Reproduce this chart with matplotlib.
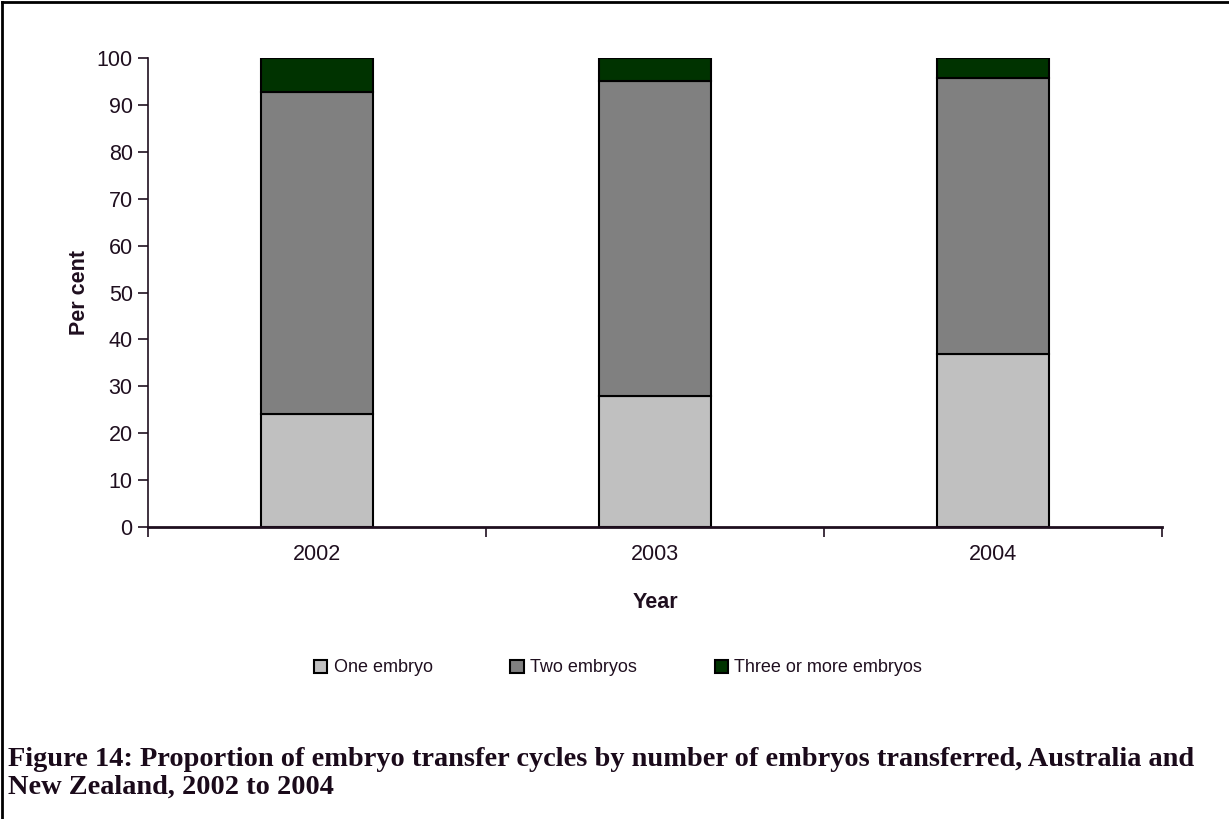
import matplotlib
matplotlib.use("Agg")
import matplotlib.pyplot as plt
from matplotlib.lines import Line2D
import numpy as np

years = ["2002", "2003", "2004"]
one_embryo = [24.2, 28.0, 36.9]
two_embryos = [68.6, 67.0, 58.8]
three_plus = [7.2, 5.0, 4.3]
series_names = ["One embryo", "Two embryos", "Three or more embryos"]
series_colors = ["#c0c0c0", "#808080", "#003300"]

txt = "#1f0f1f"
plt.rcParams['font.family'] = ['Liberation Sans', 'DejaVu Sans']

fig = plt.figure(figsize=(12.29, 8.19), dpi=100)
W, H = 1229, 819
ax = fig.add_axes([148 / W, 1 - 527 / H, (1162 - 148) / W, (527 - 58) / H])

x = np.arange(len(years))
bw = 0.33
bottom = np.zeros(len(years))
for vals, name, col in zip([one_embryo, two_embryos, three_plus], series_names, series_colors):
    ax.bar(x, vals, bw, bottom=bottom, color=col, edgecolor="black", linewidth=1.5, label=name)
    bottom += np.array(vals)

ax.set_xlim(-0.5, len(years) - 0.5)
ax.set_ylim(0, 100)
ax.set_yticks(range(0, 101, 10))
ax.set_xticks(x)
ax.set_xticks(np.arange(-0.5, len(years)), minor=True)
ax.set_xticklabels(years)
ax.tick_params(axis='x', which='major', length=0, pad=12, labelsize=15.5, colors=txt)
ax.tick_params(axis='x', which='minor', length=7, width=1.2, color=txt, direction='out')
ax.tick_params(axis='y', length=7, width=1.2, color=txt, labelsize=15.5, labelcolor=txt, pad=4)
for s in ["top", "right"]:
    ax.spines[s].set_visible(False)
ax.spines["left"].set_color(txt)
ax.spines["left"].set_linewidth(1.2)
ax.spines["bottom"].set_color(txt)
ax.spines["bottom"].set_linewidth(2)

ax.set_ylabel("Per cent", fontsize=15.5, fontweight="bold", color=txt, labelpad=5)
ax.set_xlabel("Year", fontsize=15.5, fontweight="bold", color=txt, labelpad=20)

leg = fig.legend(loc="center", bbox_to_anchor=(618 / W, 1 - 668 / H), ncol=3, frameon=False,
                 fontsize=13, handlelength=0.75, handleheight=0.75, columnspacing=4.3, handletextpad=0.35)
for t in leg.get_texts():
    t.set_color(txt)

fig.text(8 / W, 1 - 773 / H,
         "Figure 14: Proportion of embryo transfer cycles by number of embryos transferred, Australia and\nNew Zealand, 2002 to 2004",
         fontsize=20.4, fontweight="bold", family="Liberation Serif", va="center", ha="left",
         linespacing=1.15, color="#1a0a1a")

fig.lines.append(Line2D([2 / W, 2 / W], [0, 1 - 2 / H], transform=fig.transFigure, color="black", linewidth=2))
fig.lines.append(Line2D([2 / W, 1], [1 - 2 / H, 1 - 2 / H], transform=fig.transFigure, color="black", linewidth=2))

fig.savefig("out.png", dpi=100)
